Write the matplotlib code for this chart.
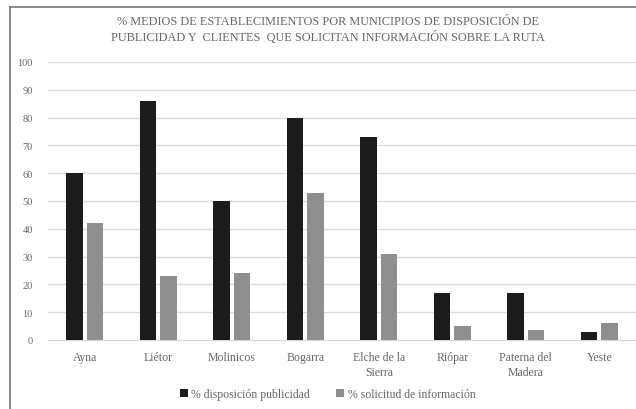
import matplotlib
matplotlib.use("Agg")
import matplotlib.pyplot as plt
from matplotlib.lines import Line2D
from matplotlib.patches import Patch
import numpy as np

# Data
municipios = ["Ayna", "Liétor", "Molinicos", "Bogarra", "Elche de la\nSierra",
              "Riópar", "Paterna del\nMadera", "Yeste"]
disposicion_publicidad = [60, 86, 50, 80, 73, 17, 17, 3]
solicitud_informacion = [42, 23, 24, 53, 31, 5, 3.5, 6]
y_ticks = [0, 10, 20, 30, 40, 50, 60, 70, 80, 90, 100]
serie_labels = ["% disposición publicidad", "% solicitud de información"]
titulo = ("% MEDIOS DE ESTABLECIMIENTOS POR MUNICIPIOS DE DISPOSICIÓN DE\n"
          "PUBLICIDAD Y  CLIENTES  QUE SOLICITAN INFORMACIÓN SOBRE LA RUTA")

plt.rcParams["font.family"] = ["Liberation Serif", "DejaVu Serif"]
text_color = "#666666"
c_dark = "#1c1c1c"
c_gray = "#8f8f8f"

W, H = 636, 410
fig = plt.figure(figsize=(W / 100, H / 100), dpi=100)
fig.patch.set_facecolor("white")

ax = fig.add_axes([48 / W, 69 / H, 588 / W, 278 / H])
x = np.arange(len(municipios))
bw = 0.23
gap = 0.025
ax.bar(x - bw / 2 - gap, disposicion_publicidad, bw, color=c_dark, zorder=3)
ax.bar(x + bw / 2 + gap, solicitud_informacion, bw, color=c_gray, zorder=3)

ax.set_xlim(-0.5, len(municipios) - 0.5)
ax.set_ylim(0, 100)
ax.set_yticks(y_ticks)
ax.set_yticklabels([str(v) for v in y_ticks])
ax.set_xticks(x)
ax.set_xticklabels(municipios, linespacing=1.3)
ax.tick_params(axis="both", length=0, colors=text_color, labelsize=8.5)
ax.tick_params(axis="y", pad=11, labelsize=7.5)
ax.tick_params(axis="x", pad=8)
ax.yaxis.grid(True, color="#dcdcdc", linewidth=1, zorder=0)
for s in ["top", "right", "left"]:
    ax.spines[s].set_visible(False)
ax.spines["bottom"].set_color("#d9d9d9")
ax.set_facecolor("white")

fig.text(0.515, 1 - 30 / H, titulo, ha="center", va="center", fontsize=8.8,
         color=text_color, linespacing=1.35)

handles = [Patch(facecolor=c_dark), Patch(facecolor=c_gray)]
fig.legend(handles, serie_labels, loc="center", bbox_to_anchor=(0.515, 1 - 395 / H),
           ncol=2, frameon=False, fontsize=8.5, labelcolor=text_color,
           handlelength=0.7, handleheight=0.7, handletextpad=0.3, columnspacing=2.2)

# Outer frame (left and top edges)
fig.add_artist(Line2D([10 / W, 10 / W], [0, 1 - 8 / H], transform=fig.transFigure,
                      color="#7f7f7f", linewidth=1.3))
fig.add_artist(Line2D([10 / W, 1], [1 - 8 / H, 1 - 8 / H], transform=fig.transFigure,
                      color="#7f7f7f", linewidth=1.3))

fig.savefig("out.png", dpi=100, facecolor="white")
